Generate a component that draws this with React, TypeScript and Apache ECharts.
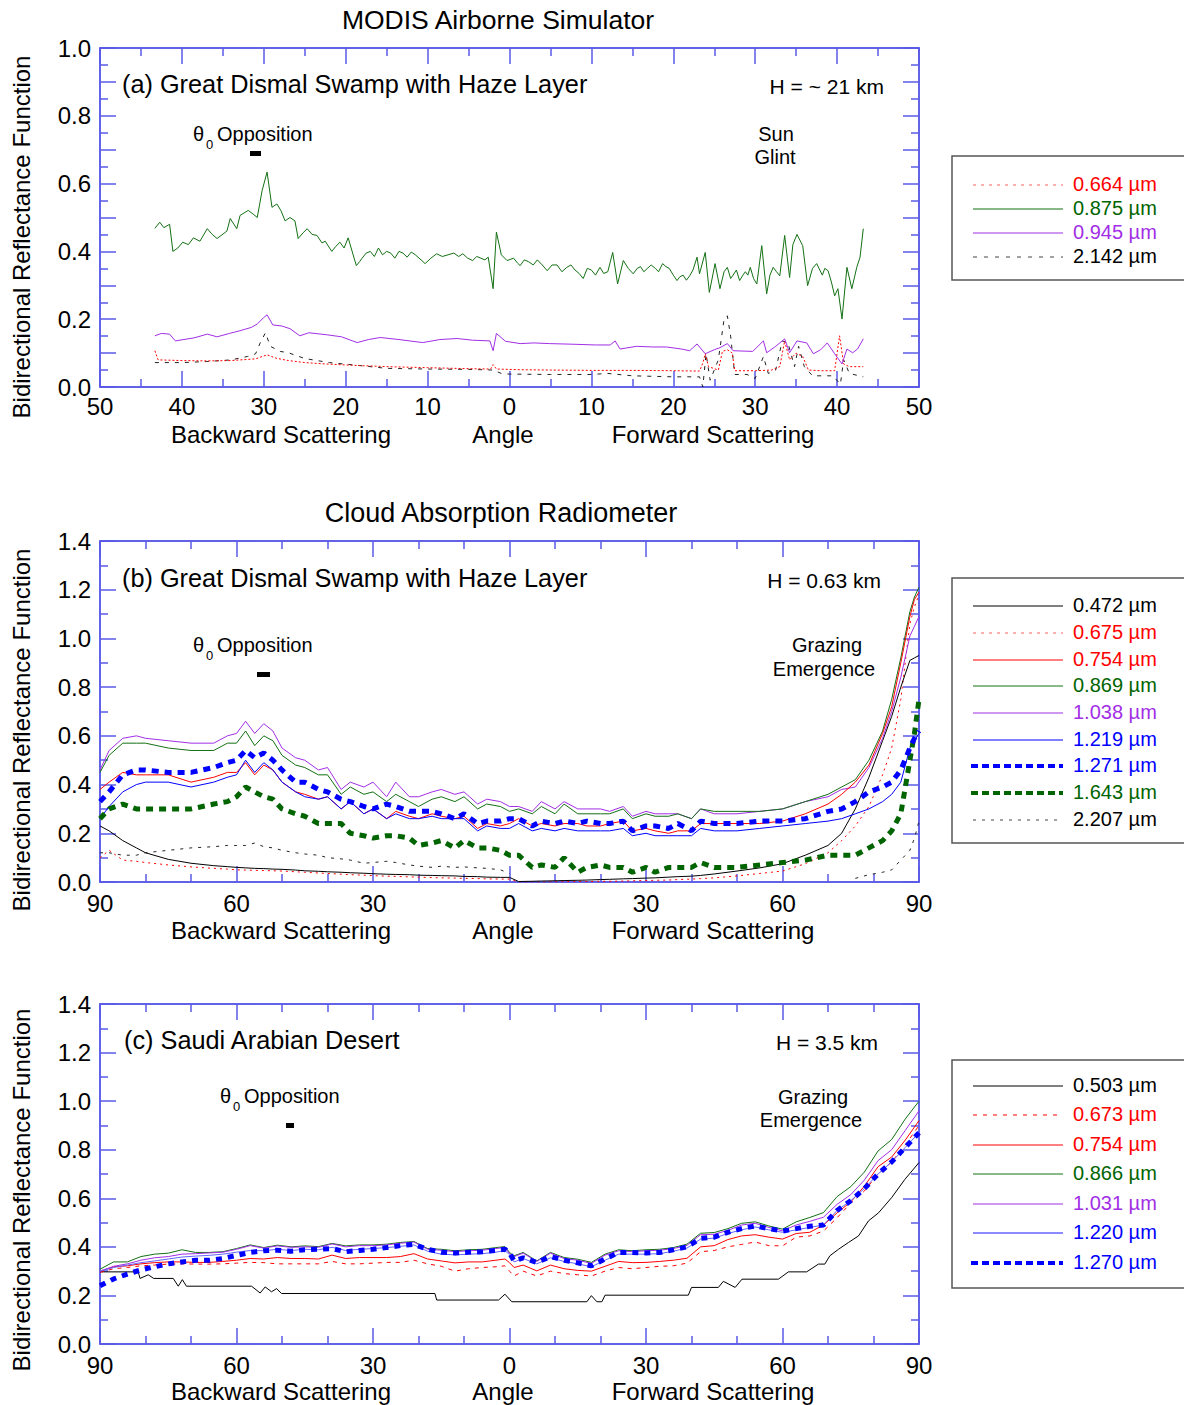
import React, { useEffect, useRef } from 'react';
import * as echarts from 'echarts';

const FONT = '"Liberation Sans", Arial, Helvetica, sans-serif';
const FRAME = '#2f2fe0';
const TICK = '#5a5ae8';
const RED = '#ff0000';
const GREEN = '#137013';
const DKGREEN = '#006400';
const PURPLE = '#a22ee6';
const BLUE = '#0000ff';
const LTBLUE = '#6464ff';

// ---------------- Panel (a): MODIS Airborne Simulator ----------------
const A_X_RANGE = [-50, 50];
const A_Y_RANGE = [0, 1.0];
const A_0664: number[][] = [[-43.3,0.107],[-42.9,0.08],[-40,0.078],[-37,0.077],[-34,0.078],[-31,0.083],[-29.6,0.095],[-28.5,0.085],[-27,0.078],[-25,0.072],[-22.5,0.068],[-20,0.065],[-15,0.06],[-10,0.057],[-5,0.054],[-2.3,0.053],[-2.0,0.066],[-1.6,0.053],[1.3,0.051],[5,0.05],[10,0.049],[15,0.049],[20,0.048],[23.2,0.047],[23.6,0.07],[23.9,0.098],[24.3,0.06],[25.5,0.05],[26.0,0.105],[26.6,0.11],[27.2,0.1],[27.5,0.048],[30,0.048],[32,0.05],[33.0,0.06],[33.6,0.136],[34.2,0.08],[35.0,0.1],[35.8,0.09],[36.5,0.05],[38,0.048],[39.7,0.048],[40.3,0.151],[40.8,0.068],[41.5,0.06],[43.2,0.06]];
const A_0875: number[][] = [[-43.3,0.468],[-42.7,0.486],[-42.2,0.47],[-41.5,0.48],[-41.1,0.40],[-40.5,0.41],[-39.9,0.427],[-39.2,0.42],[-38.6,0.44],[-37.8,0.43],[-36.9,0.467],[-36.3,0.45],[-35.7,0.438],[-34.5,0.46],[-34.1,0.497],[-33.3,0.467],[-32.9,0.506],[-31.9,0.521],[-31.3,0.51],[-30.8,0.50],[-30.2,0.58],[-29.6,0.634],[-29.0,0.53],[-28.4,0.54],[-27.9,0.52],[-27.4,0.49],[-26.8,0.50],[-26.2,0.49],[-25.8,0.438],[-25.2,0.455],[-24.7,0.467],[-24.1,0.45],[-23.5,0.447],[-22.9,0.425],[-22.5,0.43],[-21.7,0.40],[-21.2,0.415],[-20.7,0.427],[-20.2,0.41],[-19.7,0.44],[-18.7,0.358],[-18.3,0.37],[-18.0,0.38],[-17.5,0.395],[-17.0,0.40],[-16.5,0.385],[-16.0,0.41],[-15.5,0.39],[-15.0,0.40],[-14.5,0.395],[-14.0,0.38],[-13.5,0.40],[-13.0,0.395],[-12.5,0.383],[-12.0,0.398],[-11.5,0.39],[-10.8,0.375],[-10.3,0.364],[-9.6,0.38],[-8.9,0.393],[-8.2,0.385],[-7.5,0.39],[-6.8,0.395],[-6.2,0.385],[-5.7,0.393],[-5.1,0.38],[-4.5,0.373],[-4.0,0.385],[-3.5,0.38],[-3.0,0.375],[-2.6,0.383],[-2.0,0.29],[-1.6,0.457],[-1.0,0.39],[-0.3,0.373],[0.5,0.38],[1.0,0.365],[1.3,0.358],[1.8,0.375],[2.3,0.37],[2.9,0.36],[3.4,0.375],[4.0,0.36],[4.6,0.343],[5.2,0.36],[5.8,0.36],[6.4,0.34],[7.0,0.353],[7.5,0.36],[8.0,0.345],[8.5,0.335],[9.0,0.32],[9.5,0.35],[10.0,0.345],[10.5,0.33],[11.05,0.353],[11.5,0.335],[12.0,0.34],[12.6,0.397],[13.2,0.304],[13.9,0.373],[14.5,0.35],[15.1,0.334],[15.6,0.35],[16.0,0.355],[16.4,0.34],[16.8,0.349],[17.3,0.36],[17.8,0.35],[18.2,0.34],[18.7,0.364],[19.1,0.355],[19.5,0.35],[20.0,0.33],[20.45,0.314],[20.8,0.325],[21.2,0.33],[21.6,0.315],[22.0,0.328],[22.4,0.345],[22.9,0.383],[23.2,0.334],[23.9,0.397],[24.4,0.279],[25.1,0.364],[25.7,0.29],[26.2,0.34],[26.6,0.353],[27.0,0.32],[27.3,0.33],[27.7,0.345],[28.1,0.314],[28.5,0.33],[28.8,0.34],[29.1,0.33],[29.4,0.353],[29.8,0.32],[30.2,0.304],[30.8,0.417],[31.4,0.275],[31.8,0.33],[32.2,0.353],[32.6,0.34],[33.0,0.328],[33.6,0.447],[34.2,0.323],[34.6,0.42],[35.1,0.45],[35.8,0.417],[36.4,0.299],[37.0,0.35],[37.5,0.364],[38.2,0.33],[38.5,0.35],[38.9,0.343],[39.3,0.31],[39.7,0.269],[40.1,0.29],[40.6,0.201],[41.2,0.353],[41.8,0.29],[42.4,0.353],[42.8,0.383],[43.2,0.467]];
const A_0945: number[][] = [[-43.3,0.151],[-42.5,0.158],[-41.5,0.156],[-40.8,0.136],[-38.5,0.145],[-36.9,0.156],[-35.7,0.148],[-34.2,0.158],[-32.9,0.166],[-31.5,0.176],[-30.8,0.186],[-30.0,0.205],[-29.6,0.213],[-28.9,0.183],[-27.8,0.18],[-26.8,0.172],[-25.6,0.151],[-24.5,0.16],[-22.3,0.154],[-20.5,0.148],[-18.6,0.131],[-17.2,0.14],[-15.8,0.146],[-13.5,0.14],[-10.6,0.131],[-8.5,0.14],[-6.4,0.143],[-4.5,0.138],[-2.4,0.136],[-2.0,0.107],[-1.6,0.158],[-0.5,0.135],[1.3,0.128],[3.0,0.13],[4.9,0.128],[8.0,0.126],[10.5,0.124],[12.3,0.124],[12.9,0.136],[13.5,0.112],[15.5,0.12],[17.5,0.118],[19.2,0.118],[21.0,0.112],[22.0,0.107],[22.9,0.127],[23.9,0.098],[25.0,0.11],[25.7,0.116],[26.6,0.128],[27.3,0.107],[29.7,0.105],[31.0,0.136],[31.4,0.101],[32.5,0.12],[33.6,0.142],[34.2,0.101],[35.1,0.136],[36.3,0.13],[37.1,0.098],[38.0,0.11],[38.8,0.13],[39.7,0.098],[40.6,0.068],[41.2,0.112],[41.9,0.101],[42.5,0.112],[43.2,0.142]];
const A_2142: number[][] = [[-43.3,0.072],[-40,0.072],[-37,0.075],[-34,0.08],[-32,0.09],[-31,0.098],[-30.5,0.127],[-29.8,0.16],[-29.2,0.12],[-28,0.105],[-27,0.101],[-25,0.084],[-22,0.072],[-19,0.065],[-15,0.055],[-10,0.053],[-5,0.052],[-2,0.05],[-1,0.04],[0,0.038],[5,0.037],[10,0.037],[12,0.04],[15,0.033],[20,0.03],[23.2,0.03],[23.6,0.0],[24.0,0.098],[24.5,0.02],[25.5,0.08],[26.2,0.2],[26.6,0.21],[27.0,0.15],[27.5,0.037],[29,0.037],[30,0.025],[31,0.09],[31.6,0.04],[32.5,0.05],[33.3,0.136],[34,0.13],[34.8,0.06],[35.3,0.12],[36,0.06],[37,0.033],[39.5,0.033],[40.4,0.008],[40.8,0.08],[41.5,0.04],[43.2,0.03]];

// ---------------- Panel (b): Cloud Absorption Radiometer, Great Dismal Swamp ----------------
const B_X_RANGE = [-90, 90];
const B_Y_RANGE = [0, 1.4];
const B_ANGLES = [-90,-88,-85,-82,-80,-75,-70,-65,-62,-60,-58,-56,-54,-52,-50,-47,-45,-42,-40,-37,-35,-32,-30,-27,-25,-22,-20,-17,-15,-12,-10,-7,-5,-2,0,2,5,7,10,12,15,17,20,22,25,27,30,32,35,37,40,42,45,50,55,60,65,70,73,76,79,82,84,86,88,89,90];
const B_0472 = [0.23,0.21,0.17,0.14,0.12, 0.093,0.077,0.067,0.063,0.06, 0.058,0.056,0.055,0.053,0.052, 0.049,0.046,0.044,0.042,0.04, 0.038,0.036,0.034,0.032,0.031, 0.03,0.028,0.027,0.026,0.025, 0.023,0.022,0.02,0.019,0.019, 0.002,0.003,0.004,0.005,0.006, 0.007,0.008,0.01,0.011,0.013, 0.014,0.016,0.017,0.02,0.022, 0.024,0.027,0.033,0.045,0.058, 0.075,0.11,0.15,0.2,0.3, 0.43,0.58,0.68,0.8,0.91, 0.92,0.93];
const B_0675 = [0.10,0.13,0.09,0.085,0.08, 0.07,0.062,0.056,0.053,0.05, 0.049,0.048,0.047,0.046,0.045, 0.042,0.04,0.037,0.035,0.032, 0.03,0.028,0.026,0.024,0.023, 0.021,0.02,0.018,0.017,0.016, 0.015,0.014,0.013,0.012,0.012, 0.0,0.0,0.0,0.001,0.001, 0.002,0.002,0.003,0.003,0.004, 0.005,0.006,0.007,0.008,0.01, 0.012,0.014,0.017,0.025,0.035, 0.045,0.075,0.12,0.17,0.23, 0.31,0.44,0.55,0.75,1.06, 1.13,1.18];
const B_0754 = [0.38,0.41,0.45,0.44,0.44, 0.44,0.41,0.43,0.45,0.45, 0.49,0.44,0.48,0.46,0.41, 0.37,0.36,0.34,0.35,0.30, 0.33,0.28,0.30,0.26,0.29, 0.27,0.26,0.28,0.27,0.26, 0.27,0.22,0.24,0.23,0.24, 0.26,0.23,0.24,0.23,0.24, 0.24,0.23,0.23,0.24,0.25, 0.21,0.22,0.21,0.20,0.21, 0.21,0.24,0.24,0.24,0.24, 0.25,0.28,0.32,0.36,0.41, 0.48,0.61,0.72,0.90,1.09, 1.16,1.19];
const B_0869 = [0.45,0.52,0.57,0.57,0.57, 0.55,0.54,0.54,0.57,0.57, 0.62,0.56,0.60,0.58,0.52, 0.48,0.47,0.44,0.44,0.36, 0.39,0.36,0.37,0.33,0.36, 0.33,0.31,0.34,0.35,0.33, 0.35,0.30,0.32,0.31,0.29, 0.30,0.28,0.31,0.28,0.32, 0.28,0.28,0.28,0.28,0.30, 0.26,0.28,0.27,0.27,0.28, 0.26,0.30,0.29,0.29,0.29, 0.30,0.33,0.36,0.39,0.42, 0.50,0.62,0.75,0.92,1.11, 1.17,1.21];
const B_1038 = [0.46,0.54,0.59,0.60,0.59, 0.58,0.57,0.57,0.60,0.61, 0.66,0.61,0.65,0.62,0.55, 0.51,0.50,0.46,0.47,0.38, 0.41,0.39,0.41,0.35,0.41, 0.35,0.35,0.37,0.38,0.36, 0.37,0.32,0.34,0.33,0.31, 0.31,0.29,0.33,0.30,0.33, 0.30,0.30,0.30,0.29,0.31, 0.27,0.29,0.28,0.28,0.28, 0.26,0.30,0.28,0.28,0.29, 0.30,0.33,0.35,0.38,0.39, 0.47,0.59,0.70,0.84,1.01, 1.05,1.09];
const B_1219 = [0.26,0.31,0.37,0.40,0.41, 0.41,0.39,0.41,0.43,0.44, 0.50,0.45,0.49,0.46,0.41, 0.37,0.35,0.34,0.35,0.30, 0.33,0.28,0.30,0.26,0.28, 0.26,0.26,0.27,0.26,0.26, 0.26,0.21,0.23,0.22,0.22, 0.24,0.21,0.22,0.21,0.22, 0.21,0.21,0.21,0.21,0.22, 0.19,0.20,0.19,0.19,0.19, 0.19,0.22,0.21,0.21,0.22, 0.23,0.24,0.25,0.26,0.28, 0.30,0.33,0.36,0.41,0.55, 0.58,0.61];
const B_1271 = [0.33,0.37,0.44,0.46,0.46, 0.45,0.45,0.47,0.49,0.50, 0.54,0.51,0.53,0.50,0.46, 0.41,0.41,0.38,0.37,0.34, 0.33,0.31,0.30,0.32,0.31, 0.29,0.29,0.29,0.28,0.26, 0.28,0.24,0.25,0.25,0.26, 0.26,0.23,0.25,0.24,0.25, 0.24,0.25,0.24,0.24,0.25, 0.21,0.23,0.23,0.22,0.24, 0.21,0.25,0.24,0.24,0.25, 0.25,0.26,0.29,0.30,0.33, 0.37,0.39,0.41,0.46,0.55, 0.59,0.62];
const B_1643 = [0.26,0.30,0.32,0.30,0.30, 0.30,0.30,0.32,0.33,0.35, 0.39,0.37,0.35,0.34,0.30, 0.28,0.27,0.24,0.24,0.24, 0.20,0.19,0.18,0.19,0.19, 0.18,0.15,0.16,0.17,0.14, 0.17,0.14,0.14,0.13,0.11, 0.11,0.06,0.07,0.06,0.10, 0.04,0.06,0.07,0.06,0.06, 0.04,0.06,0.04,0.06,0.06, 0.06,0.08,0.06,0.06,0.07, 0.08,0.09,0.11,0.11,0.11, 0.14,0.17,0.21,0.28,0.50, 0.61,0.75];
const B_2207 = [0.12,0.12,0.11,0.11,0.12, 0.13,0.14,0.145,0.15,0.15, 0.15,0.16,0.145,0.14,0.13, 0.12,0.115,0.11,0.10,0.095, 0.09,0.077,0.08,0.085,0.08, 0.07,0.065,0.06,0.065,0.06, 0.062,0.058,0.056,0.05,0.035, null,null,null,null,null, null,null,null,null,null, null,null,null,null,null, null,null,null,null,null, null,null,null,null,0.015, 0.03,0.04,0.05,0.09,0.13, 0.18,0.25];

// ---------------- Panel (c): Saudi Arabian Desert ----------------
const C_X_RANGE = [-90, 90];
const C_Y_RANGE = [0, 1.4];
const C_ANGLES = [-90,-87,-84,-81,-78,-75,-72,-69,-66,-63,-60,-57,-54,-51,-48,-45,-42,-39,-36,-33,-30,-27,-24,-21,-18,-15,-12,-9,-6,-3,-1,0,1,3,6,9,12,15,18,21,24,27,30,33,36,39,42,45,48,51,54,57,60,63,66,69,72,75,78,81,84,87,90];
const C_0503: number[][] = [[-90,0.297],[-81.6,0.297],[-81.2,0.27],[-79.4,0.285],[-78.2,0.27],[-73.9,0.27],[-72.8,0.238],[-71.9,0.265],[-71,0.238],[-56.7,0.238],[-54.8,0.21],[-53.7,0.235],[-52.3,0.215],[-51.2,0.228],[-50.1,0.208],[-16.4,0.208],[-16,0.181],[-2.4,0.181],[-1,0.205],[0.5,0.174],[17,0.174],[18,0.199],[19.2,0.174],[20.3,0.174],[21,0.201],[39.3,0.201],[40,0.233],[45.9,0.233],[47,0.258],[49.6,0.233],[51.1,0.267],[59.1,0.267],[61.3,0.297],[65.3,0.297],[67.9,0.329],[69.3,0.329],[70.4,0.363],[72.3,0.39],[74.5,0.418],[76.7,0.445],[78.9,0.507],[81.1,0.54],[84,0.603],[86.9,0.678],[90,0.747]];
const C_0673 = [0.295,0.31,0.315,0.322,0.325, 0.329,0.33,0.329,0.329,0.33, 0.333,0.336,0.335,0.33,0.33, 0.33,0.33,0.34,0.33,0.33, 0.333,0.336,0.336,0.345,0.33, 0.32,0.30,0.31,0.315,0.318, 0.322,0.30,0.28,0.30,0.28, 0.30,0.29,0.285,0.28,0.30, 0.315,0.31,0.315,0.32,0.322, 0.333,0.38,0.385,0.40,0.41, 0.42,0.405,0.404,0.44,0.445, 0.465,0.52,0.58,0.63,0.70, 0.75,0.82,0.90];
const C_0754 = [0.30,0.318,0.322,0.33,0.335, 0.338,0.338,0.336,0.336,0.34, 0.345,0.352,0.35,0.356,0.352, 0.352,0.35,0.366,0.352,0.356, 0.356,0.356,0.36,0.372,0.35, 0.342,0.334,0.338,0.338,0.345, 0.35,0.335,0.315,0.325,0.301, 0.325,0.31,0.303,0.30,0.32, 0.34,0.335,0.336,0.34,0.345, 0.353,0.40,0.405,0.43,0.445, 0.45,0.44,0.432,0.455,0.46, 0.49,0.54,0.585,0.65,0.73, 0.77,0.84,0.92];
const C_0866 = [0.308,0.338,0.338,0.36,0.37, 0.374,0.388,0.377,0.377,0.38, 0.393,0.408,0.397,0.407,0.40, 0.404,0.401,0.414,0.404,0.408, 0.408,0.411,0.418,0.422,0.393, 0.39,0.384,0.388,0.39,0.397, 0.401,0.377,0.363,0.377,0.342, 0.377,0.356,0.349,0.336,0.37, 0.388,0.384,0.388,0.39,0.397, 0.411,0.456,0.459,0.475,0.497, 0.503,0.486,0.473,0.503,0.521, 0.541,0.607,0.648,0.708,0.795, 0.842,0.927,1.0];
const C_1031 = [0.30,0.32,0.33,0.345,0.355, 0.36,0.37,0.372,0.375,0.378, 0.39,0.405,0.395,0.404,0.398, 0.40,0.398,0.412,0.40,0.405, 0.405,0.408,0.415,0.42,0.39, 0.386,0.38,0.384,0.386,0.393, 0.398,0.372,0.36,0.374,0.34, 0.374,0.352,0.345,0.332,0.366, 0.384,0.38,0.384,0.386,0.393, 0.406,0.45,0.452,0.468,0.49, 0.497,0.48,0.466,0.49,0.505, 0.522,0.575,0.615,0.675,0.755, 0.80,0.88,0.96];
const C_1220 = [0.30,0.315,0.325,0.335,0.342, 0.35,0.358,0.362,0.365,0.37, 0.378,0.385,0.384,0.39,0.385, 0.39,0.388,0.398,0.385,0.39, 0.393,0.397,0.402,0.408,0.382, 0.37,0.367,0.37,0.372,0.378, 0.385,0.368,0.338,0.352,0.33, 0.355,0.34,0.33,0.318,0.345, 0.37,0.37,0.37,0.372,0.382, 0.395,0.432,0.436,0.455,0.47, 0.482,0.47,0.46,0.47,0.48, 0.49,0.55,0.59,0.64,0.70, 0.75,0.81,0.87];
const C_1270 = [0.24,0.268,0.288,0.305,0.318, 0.33,0.338,0.345,0.345,0.352, 0.365,0.377,0.384,0.386,0.382, 0.388,0.39,0.393,0.38,0.385, 0.39,0.397,0.405,0.41,0.39, 0.378,0.375,0.378,0.38,0.385, 0.39,0.375,0.342,0.355,0.336, 0.36,0.345,0.334,0.322,0.35, 0.377,0.377,0.375,0.377,0.388, 0.40,0.435,0.44,0.46,0.475, 0.486,0.475,0.465,0.475,0.485, 0.49,0.55,0.59,0.64,0.70, 0.75,0.81,0.87];

// ---------------- layout ----------------
const GRIDS = [
  { left: 100, top: 48, width: 819, height: 339 },
  { left: 100, top: 541, width: 819, height: 341 },
  { left: 100, top: 1004, width: 819, height: 340 },
];

const zip = (xs: number[], ys: (number | null)[]) => xs.map((x, i) => [x, ys[i] == null ? '-' : ys[i]]);

function axisBase(range: number[], interval: number, minorSplit: number) {
  return {
    type: 'value',
    min: range[0],
    max: range[1],
    interval,
    axisLine: { show: true, onZero: false, lineStyle: { color: FRAME, width: 1.5 } },
    axisTick: { show: true, inside: true, length: 16, lineStyle: { color: TICK, width: 1.5 } },
    minorTick: { show: true, splitNumber: minorSplit, length: 8, lineStyle: { color: TICK, width: 1.5 } },
    splitLine: { show: false },
    minorSplitLine: { show: false },
  };
}

const labelStyle = { fontSize: 24, lineHeight: 20, fontFamily: FONT, color: '#000' };

function xAxes(gi: number, range: number[], interval: number, minorSplit: number, margin: number) {
  return [
    {
      ...axisBase(range, interval, minorSplit),
      gridIndex: gi,
      position: 'bottom',
      axisLabel: { ...labelStyle, show: true, margin, showMinLabel: true, showMaxLabel: true, formatter: (v: number) => String(Math.abs(Math.round(v))) },
    },
    { ...axisBase(range, interval, minorSplit), gridIndex: gi, position: 'top', axisLabel: { show: false } },
  ];
}

function yAxes(gi: number, range: number[], interval: number, minorSplit: number, fmt: (v: number) => string) {
  return [
    {
      ...axisBase(range, interval, minorSplit),
      gridIndex: gi,
      position: 'left',
      axisLabel: { ...labelStyle, show: true, margin: 9, showMinLabel: true, showMaxLabel: true, formatter: fmt },
    },
    { ...axisBase(range, interval, minorSplit), gridIndex: gi, position: 'right', axisLabel: { show: false } },
  ];
}

function line(data: any[], gi: number, color: string, width: number, dash: any = 'solid', z = 2) {
  return {
    type: 'line',
    data,
    xAxisIndex: gi * 2,
    yAxisIndex: gi * 2,
    showSymbol: false,
    symbol: 'none',
    silent: true,
    z,
    lineStyle: { color, width, type: dash, cap: 'butt' },
  };
}

function txt(x: number, y: number, text: string, size: number, opts: any = {}) {
  return {
    type: 'text',
    x,
    y,
    rotation: opts.rotation || 0,
    style: {
      text,
      fontSize: size,
      lineHeight: opts.lineHeight || Math.round(size * 0.9),
      fontFamily: FONT,
      fill: opts.fill || '#000',
      align: opts.align || 'left',
      verticalAlign: 'middle',
    },
  };
}

type LegendItem = { label: string; color: string; text: string; width: number; dash: any };

function legend(x: number, y: number, h: number, rows: number[], items: LegendItem[]) {
  const els: any[] = [
    { type: 'rect', shape: { x, y, width: 260, height: h }, style: { fill: 'rgba(0,0,0,0)', stroke: '#555', lineWidth: 1.5 } },
  ];
  items.forEach((it, i) => {
    const yy = rows[i];
    els.push({
      type: 'line',
      shape: { x1: it.width > 2 ? 971 : 973, y1: yy + 1, x2: 1063, y2: yy + 1 },
      style: { stroke: it.color, lineWidth: it.width, lineDash: it.dash === 'solid' ? null : it.dash },
    });
    els.push(txt(1073, yy, it.label, 20, { fill: it.text }));
  });
  return els;
}

function opposition(thetaX: number, y: number, barX: number, barY: number, barW: number) {
  return [
    txt(thetaX, y, 'θ', 20),
    txt(thetaX + 13, y + 10, '0', 13),
    txt(thetaX + 24, y, 'Opposition', 20),
    { type: 'rect', shape: { x: barX, y: barY, width: barW, height: 5 }, style: { fill: '#000' } },
  ];
}

function xTitles(y: number) {
  return [
    txt(281, y, 'Backward Scattering', 24, { align: 'center', lineHeight: 20 }),
    txt(503, y, 'Angle', 24, { align: 'center', lineHeight: 20 }),
    txt(713, y, 'Forward Scattering', 24, { align: 'center', lineHeight: 20 }),
  ];
}

const fmtA = (v: number) => (Math.round(v * 10) % 2 === 0 ? v.toFixed(1) : '');
const fmtB = (v: number) => v.toFixed(1);

const option: any = {
  animation: false,
  backgroundColor: '#fff',
  grid: GRIDS.map((g) => ({ ...g, containLabel: false })),
  xAxis: [
    ...xAxes(0, A_X_RANGE, 10, 2, 9),
    ...xAxes(1, B_X_RANGE, 30, 3, 11),
    ...xAxes(2, C_X_RANGE, 30, 3, 11),
  ],
  yAxis: [
    ...yAxes(0, A_Y_RANGE, 0.1, 2, fmtA),
    ...yAxes(1, B_Y_RANGE, 0.2, 2, fmtB),
    ...yAxes(2, C_Y_RANGE, 0.2, 2, fmtB),
  ],
  series: [
    // (a)
    line(A_2142, 0, '#222', 1, [4, 6]),
    line(A_0664, 0, RED, 1, [2, 2]),
    line(A_0945, 0, PURPLE, 1),
    line(A_0875, 0, GREEN, 1),
    // (b)
    line(zip(B_ANGLES, B_2207), 1, '#222', 1, [3, 6]),
    line(zip(B_ANGLES, B_0675), 1, RED, 1, [2, 4]),
    line(zip(B_ANGLES, B_0472), 1, '#000', 1),
    line(zip(B_ANGLES, B_1038), 1, PURPLE, 1),
    line(zip(B_ANGLES, B_0869), 1, GREEN, 1),
    line(zip(B_ANGLES, B_0754), 1, RED, 1),
    line(zip(B_ANGLES, B_1219), 1, BLUE, 1),
    line(zip(B_ANGLES, B_1643), 1, DKGREEN, 5, [7, 6], 3),
    line(zip(B_ANGLES, B_1271), 1, BLUE, 5, [7, 6], 4),
    // (c)
    line(C_0503, 2, '#000', 1),
    line(zip(C_ANGLES, C_0673), 2, RED, 1, [4, 5]),
    line(zip(C_ANGLES, C_0754), 2, RED, 1),
    line(zip(C_ANGLES, C_0866), 2, GREEN, 1),
    line(zip(C_ANGLES, C_1031), 2, PURPLE, 1),
    line(zip(C_ANGLES, C_1220), 2, LTBLUE, 1),
    line(zip(C_ANGLES, C_1270), 2, BLUE, 5, [6, 6], 4),
  ],
  graphic: [
    // titles
    txt(498, 20, 'MODIS Airborne Simulator', 26.5, { align: 'center' }),
    txt(501, 513, 'Cloud Absorption Radiometer', 27, { align: 'center' }),
    // y titles
    txt(21, 237, 'Bidirectional Reflectance Function', 24, { align: 'center', rotation: Math.PI / 2 }),
    txt(21, 730, 'Bidirectional Reflectance Function', 24, { align: 'center', rotation: Math.PI / 2 }),
    txt(21, 1190, 'Bidirectional Reflectance Function', 24, { align: 'center', rotation: Math.PI / 2 }),
    // x titles
    ...xTitles(434),
    ...xTitles(930),
    ...xTitles(1391),
    // panel (a) annotations
    txt(122, 84, '(a) Great Dismal Swamp with Haze Layer', 25.3),
    txt(884, 86, 'H = ~ 21 km', 21, { align: 'right' }),
    ...opposition(193, 134, 250, 151, 11),
    txt(776, 134, 'Sun', 20, { align: 'center' }),
    txt(775, 157, 'Glint', 20, { align: 'center' }),
    // panel (b)
    txt(122, 578, '(b) Great Dismal Swamp with Haze Layer', 25.3),
    txt(881, 580, 'H = 0.63 km', 21, { align: 'right' }),
    ...opposition(193, 645, 257, 672, 13),
    txt(827, 645, 'Grazing', 20, { align: 'center' }),
    txt(824, 669, 'Emergence', 20, { align: 'center' }),
    // panel (c)
    txt(124, 1040, '(c) Saudi Arabian Desert', 25.3),
    txt(878, 1042, 'H = 3.5 km', 21, { align: 'right' }),
    ...opposition(220, 1096, 286, 1123, 8),
    txt(813, 1097, 'Grazing', 20, { align: 'center' }),
    txt(811, 1120, 'Emergence', 20, { align: 'center' }),
    // legends
    ...legend(952, 156, 124, [184, 208, 232, 256], [
      { label: '0.664 µm', color: '#ff6060', text: RED, width: 1.2, dash: [3, 5] },
      { label: '0.875 µm', color: GREEN, text: DKGREEN, width: 1.2, dash: 'solid' },
      { label: '0.945 µm', color: PURPLE, text: PURPLE, width: 1.2, dash: 'solid' },
      { label: '2.142 µm', color: '#444', text: '#000', width: 1.2, dash: [4, 7] },
    ]),
    ...legend(952, 578, 265, [605, 632, 659, 685, 712, 739, 765, 792, 819], [
      { label: '0.472 µm', color: '#000', text: '#000', width: 1, dash: 'solid' },
      { label: '0.675 µm', color: '#ff6060', text: RED, width: 1, dash: [3, 5] },
      { label: '0.754 µm', color: RED, text: RED, width: 1, dash: 'solid' },
      { label: '0.869 µm', color: GREEN, text: DKGREEN, width: 1, dash: 'solid' },
      { label: '1.038 µm', color: PURPLE, text: PURPLE, width: 1.2, dash: 'solid' },
      { label: '1.219 µm', color: BLUE, text: BLUE, width: 1, dash: 'solid' },
      { label: '1.271 µm', color: BLUE, text: BLUE, width: 4, dash: [7, 4] },
      { label: '1.643 µm', color: DKGREEN, text: DKGREEN, width: 4, dash: [7, 4] },
      { label: '2.207 µm', color: '#444', text: '#000', width: 1, dash: [3, 6] },
    ]),
    ...legend(952, 1060, 228, [1085, 1114, 1144, 1173, 1203, 1232, 1262], [
      { label: '0.503 µm', color: '#000', text: '#000', width: 1, dash: 'solid' },
      { label: '0.673 µm', color: RED, text: RED, width: 1, dash: [4, 6] },
      { label: '0.754 µm', color: RED, text: RED, width: 1, dash: 'solid' },
      { label: '0.866 µm', color: GREEN, text: DKGREEN, width: 1, dash: 'solid' },
      { label: '1.031 µm', color: PURPLE, text: PURPLE, width: 1, dash: 'solid' },
      { label: '1.220 µm', color: LTBLUE, text: BLUE, width: 1.5, dash: 'solid' },
      { label: '1.270 µm', color: BLUE, text: BLUE, width: 4, dash: [7, 4] },
    ]),
  ],
};

export default function App() {
  const ref = useRef<HTMLDivElement>(null);
  useEffect(() => {
    document.body.style.margin = '0';
    const chart = echarts.init(ref.current!, null, { renderer: 'svg' });
    chart.setOption(option);
    return () => chart.dispose();
  }, []);
  return <div ref={ref} style={{ position: 'absolute', left: 0, top: 0, width: 1184, height: 1405, background: '#fff' }} />;
}
